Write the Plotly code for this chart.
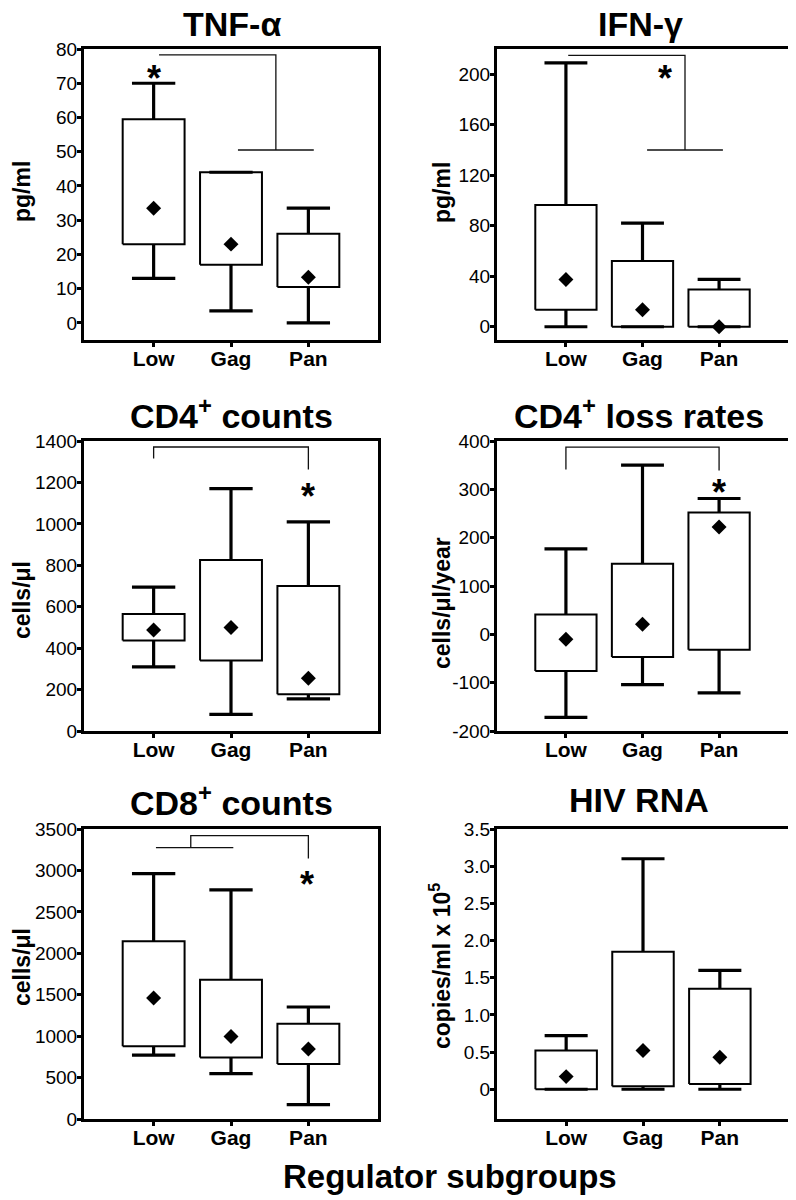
import plotly.graph_objects as go

# the page body has an 8px margin, so the figure is sized to fit inside the window
PAGE_W, PAGE_H, PAD = 796, 1200, 8
W, H = PAGE_W - PAD, PAGE_H - PAD

groups = ["Low", "Gag", "Pan"]

# TNF-alpha (pg/ml)
tnf_lo = [13, 3.5, 0]
tnf_q1 = [23, 17, 10.5]
tnf_q3 = [59.5, 44, 26]
tnf_hi = [70, 44, 33.5]
tnf_mean = [33.5, 23, 13.3]

# IFN-gamma (pg/ml)
ifn_lo = [0, 0, 0]
ifn_q1 = [13.5, 0, 0]
ifn_q3 = [96.5, 52, 29.5]
ifn_hi = [209, 82, 37.5]
ifn_mean = [37.5, 13.5, 0]

# CD4+ counts (cells/ul)
cd4_lo = [310, 80, 155]
cd4_q1 = [437, 340, 178]
cd4_q3 = [565, 825, 700]
cd4_hi = [695, 1170, 1010]
cd4_mean = [488, 500, 255]

# CD4+ loss rates (cells/ul/year)
loss_lo = [-172, -104, -121]
loss_q1 = [-76, -47, -32]
loss_q3 = [41, 146, 252]
loss_hi = [177, 350, 281]
loss_mean = [-10, 21, 222]

# CD8+ counts (cells/ul)
cd8_lo = [772, 548, 174]
cd8_q1 = [878, 741, 665]
cd8_q3 = [2145, 1682, 1151]
cd8_hi = [2962, 2766, 1352]
cd8_mean = [1460, 995, 845]

# HIV RNA (copies/ml x 10^5)
hiv_lo = [0, 0, 0]
hiv_q1 = [0, 0.04, 0.07]
hiv_q3 = [0.52, 1.85, 1.35]
hiv_hi = [0.72, 3.1, 1.6]
hiv_mean = [0.17, 0.52, 0.43]

# significance brackets (x in group index units, y in data units) and stars
tnf_br_x = [0.07, 1.58, 1.58, None, 1.09, 2.07]
tnf_br_y = [78.3, 78.3, 50.5, None, 50.5, 50.5]
tnf_star = (0, 73.5)
ifn_br_x = [0.03, 1.555, 1.555, None, 1.06, 2.05]
ifn_br_y = [215, 215, 140, None, 140, 140]
ifn_star = (1.29, 202)
cd4_br_x = [0, 0, 2, 2]
cd4_br_y = [1315, 1371, 1371, 1262]
cd4_star = (2, 1165)
loss_br_x = [0, 0, 2, 2]
loss_br_y = [341, 387.5, 387.5, 339]
loss_star = (2, 308)
cd8_br_x = [0.03, 1.03, None, 0.48, 0.48, 2, 2]
cd8_br_y = [3275, 3275, None, 3275, 3420, 3420, 3143]
cd8_star = (1.98, 2920)

panels = [
    dict(title="TNF-α", ytitle="pg/ml", data=(tnf_lo, tnf_q1, tnf_q3, tnf_hi, tnf_mean),
         yrange=[-5, 80], ticks=list(range(0, 81, 10)), br=(tnf_br_x, tnf_br_y), star=tnf_star),
    dict(title="IFN-γ", ytitle="pg/ml", data=(ifn_lo, ifn_q1, ifn_q3, ifn_hi, ifn_mean),
         yrange=[-10.5, 220], ticks=list(range(0, 201, 40)), br=(ifn_br_x, ifn_br_y), star=ifn_star),
    dict(title="CD4<sup>+</sup> counts", ytitle="cells/μl", data=(cd4_lo, cd4_q1, cd4_q3, cd4_hi, cd4_mean),
         yrange=[0, 1400], ticks=list(range(0, 1401, 200)), br=(cd4_br_x, cd4_br_y), star=cd4_star),
    dict(title="CD4<sup>+</sup> loss rates", ytitle="cells/μl/year",
         data=(loss_lo, loss_q1, loss_q3, loss_hi, loss_mean),
         yrange=[-200, 400], ticks=list(range(-200, 401, 100)), br=(loss_br_x, loss_br_y), star=loss_star),
    dict(title="CD8<sup>+</sup> counts", ytitle="cells/μl", data=(cd8_lo, cd8_q1, cd8_q3, cd8_hi, cd8_mean),
         yrange=[0, 3500], ticks=list(range(0, 3501, 500)), br=(cd8_br_x, cd8_br_y), star=cd8_star),
    dict(title="HIV RNA", ytitle="copies/ml x 10<sup>5</sup>", data=(hiv_lo, hiv_q1, hiv_q3, hiv_hi, hiv_mean),
         yrange=[-0.4, 3.5], ticks=[0, 0.5, 1, 1.5, 2, 2.5, 3, 3.5], br=None, star=None),
]

# page-pixel frames of each panel: (left, right, top, bottom)
frames = [
    (84, 378, 49, 340), (497, 788, 49, 340),
    (84, 378, 441, 731), (497, 788, 441, 731),
    (84, 378, 829, 1119), (497, 789, 829, 1119),
]
title_pos = [(232, 24), (640, 24), (231, 413), (639, 413), (231, 800), (639, 800)]
ytitle_pos = [(22, 192), (442, 193), (22, 600), (442, 603), (22, 967), (440, 966)]


def px(x):
    return (x - PAD) / W


def py(y):
    return 1 - (y - PAD) / H


HALF_BOX = 0.4
HALF_CAP = 0.28
FONT = "Liberation Sans, Arial, sans-serif"

fig = go.Figure()
annotations = []

for k, p in enumerate(panels):
    n = k + 1
    xa, ya = ("x%d" % n if n > 1 else "x"), ("y%d" % n if n > 1 else "y")
    lo, q1, q3, hi, mean = p["data"]

    if p["br"]:
        fig.add_trace(go.Scatter(x=p["br"][0], y=p["br"][1], mode="lines",
                                 line=dict(color="#111", width=1.3),
                                 xaxis=xa, yaxis=ya, hoverinfo="skip"))
        sx, sy = p["star"]
        annotations.append(dict(x=sx, y=sy, xref=xa, yref=ya, text="<b>*</b>", showarrow=False,
                                font=dict(family=FONT, size=36, color="black"),
                                xanchor="center", yanchor="middle", yshift=-7))

    wx, wy, bx, by = [], [], [], []
    for i in range(len(groups)):
        wx += [i, i, None, i - HALF_CAP, i + HALF_CAP, None,
               i, i, None, i - HALF_CAP, i + HALF_CAP, None]
        wy += [q3[i], hi[i], None, hi[i], hi[i], None,
               q1[i], lo[i], None, lo[i], lo[i], None]
        bx += [i - HALF_BOX, i + HALF_BOX, i + HALF_BOX, i - HALF_BOX, i - HALF_BOX, None]
        by += [q1[i], q1[i], q3[i], q3[i], q1[i], None]

    fig.add_trace(go.Scatter(x=wx, y=wy, mode="lines", line=dict(color="black", width=3.2),
                             xaxis=xa, yaxis=ya))
    fig.add_trace(go.Scatter(x=bx, y=by, mode="lines", line=dict(color="black", width=2),
                             xaxis=xa, yaxis=ya))
    fig.add_trace(go.Scatter(x=list(range(len(groups))), y=mean, mode="markers",
                             marker=dict(symbol="diamond", size=11.5, color="black"),
                             xaxis=xa, yaxis=ya))

    l, r, t, b = frames[k]
    if p["ticks"][-1] > 10:
        ticktext = ["%d" % v for v in p["ticks"]]
    else:
        ticktext = ["0" if v == 0 else "%.1f" % v for v in p["ticks"]]
    axis_common = dict(showline=True, mirror=True, linewidth=3, linecolor="black",
                       ticks="outside", ticklen=4, tickwidth=3, tickcolor="black",
                       showgrid=False, zeroline=False, fixedrange=True, automargin=False)
    fig.update_layout({
        "xaxis%s" % ("" if n == 1 else n): dict(
            domain=[px(l), px(r)], range=[-0.9, 2.9], anchor=ya,
            tickvals=list(range(len(groups))), ticktext=groups, ticklabelstandoff=-6,
            tickfont=dict(family=FONT, size=21, color="black", weight=700), **axis_common),
        "yaxis%s" % ("" if n == 1 else n): dict(
            domain=[py(b), py(t)], range=p["yrange"], anchor=xa,
            tickvals=p["ticks"], ticktext=ticktext, ticklabelstandoff=-4,
            tickfont=dict(family=FONT, size=19, color="black"), **axis_common),
    })

    tx, ty = title_pos[k]
    annotations.append(dict(x=px(tx), y=py(ty), xref="paper", yref="paper", text="<b>%s</b>" % p["title"],
                            showarrow=False, xanchor="center", yanchor="middle",
                            font=dict(family=FONT, size=34, color="black")))
    yx, yy = ytitle_pos[k]
    annotations.append(dict(x=px(yx), y=py(yy), xref="paper", yref="paper", text="<b>%s</b>" % p["ytitle"],
                            showarrow=False, xanchor="center", yanchor="middle", textangle=-90,
                            font=dict(family=FONT, size=23, color="black")))

annotations.append(dict(x=px(450), y=py(1176), xref="paper", yref="paper", text="<b>Regulator subgroups</b>",
                        showarrow=False, xanchor="center", yanchor="middle",
                        font=dict(family=FONT, size=33, color="black")))

fig.update_layout(width=W, height=H, margin=dict(l=0, r=0, t=0, b=0, autoexpand=False),
                  paper_bgcolor="white", plot_bgcolor="white", showlegend=False,
                  annotations=annotations)

fig.write_html("out.html")
